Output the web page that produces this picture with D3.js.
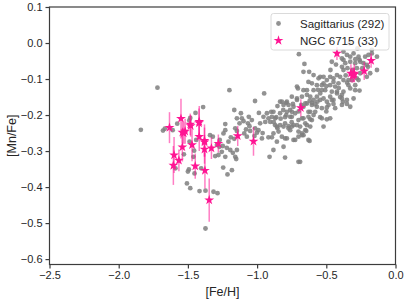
<!DOCTYPE html>
<html>
<head>
<meta charset="utf-8">
<script src="https://cdn.jsdelivr.net/npm/d3@7"></script>
<style>
  html, body { margin: 0; padding: 0; background: #fff; }
  svg { display: block; }
  text { font-family: "Liberation Sans", Arial, sans-serif; fill: #262626; }
</style>
</head>
<body>
<svg id="chart" width="413" height="308"></svg>
<script>
// ---------------- data ----------------
const xTicks = [-2.5, -2.0, -1.5, -1.0, -0.5, 0.0];
const yTicks = [0.1, 0.0, -0.1, -0.2, -0.3, -0.4, -0.5, -0.6];
const xLabel = "[Fe/H]";
const yLabel = "[Mn/Fe]";
const sgrName = "Sagittarius (292)";
const ngcName = "NGC 6715 (33)";

// Sagittarius field stars: [Fe/H], [Mn/Fe]
const sgrPoints = [
  [-1.84,-0.241],[-1.72,-0.124],[-1.68,-0.243],[-1.667,-0.238],[-1.61,-0.242],[-1.577,-0.224],[-1.49,-0.215],[-1.483,-0.208],[-1.445,-0.194],[-1.39,-0.178],
  [-1.488,-0.274],[-1.455,-0.299],[-1.46,-0.316],[-1.493,-0.351],[-1.50,-0.357],[-1.452,-0.362],[-1.507,-0.39],[-1.483,-0.403],[-1.416,-0.411],[-1.529,-0.309],
  [-1.59,-0.348],[-1.404,-0.348],[-1.373,-0.41],[-1.315,-0.413],[-1.286,-0.417],[-1.373,-0.515],[-1.44,-0.269],[-1.34,-0.256],[-1.32,-0.26],[-1.20,-0.131],
  [-1.29,-0.283],[-1.27,-0.269],[-1.272,-0.288],[-1.248,-0.286],[-1.255,-0.302],[-1.279,-0.311],[-1.303,-0.314],[-1.245,-0.346],[-1.214,-0.365],[-1.182,-0.353],
  [-0.949,-0.14],[-1.015,-0.161],[-0.853,-0.175],[-1.165,-0.186],[-1.117,-0.195],[-0.987,-0.194],[-0.898,-0.191],[-0.821,-0.163],[-0.79,-0.166],[-0.773,-0.172],
  [-0.741,-0.169],[-0.712,-0.158],[-0.705,-0.126],[-0.811,-0.186],[-0.761,-0.186],[-0.725,-0.195],[-0.79,-0.2],[-0.749,-0.205],[-0.834,-0.195],[-0.954,-0.205],
  [-0.918,-0.209],[-0.893,-0.205],[-1.146,-0.209],[-1.11,-0.209],[-1.098,-0.217],[-1.127,-0.223],[-1.23,-0.225],[-1.158,-0.237],[-1.066,-0.223],[-1.038,-0.214],
  [-1.014,-0.237],[-0.99,-0.242],[-1.001,-0.249],[-1.019,-0.258],[-0.978,-0.223],[-0.941,-0.219],[-0.905,-0.219],[-0.869,-0.228],[-0.853,-0.237],[-0.834,-0.228],
  [-0.798,-0.223],[-0.773,-0.231],[-0.749,-0.232],[-0.712,-0.228],[-0.701,-0.246],[-0.761,-0.242],[-0.893,-0.262],[-0.845,-0.246],[-0.798,-0.265],[-0.737,-0.269],
  [-0.701,-0.26],[-1.23,-0.242],[-1.243,-0.251],[-1.19,-0.262],[-1.207,-0.274],[-1.219,-0.291],[-1.194,-0.297],[-1.175,-0.305],[-1.146,-0.297],[-1.23,-0.316],
  [-1.158,-0.316],[-1.151,-0.322],[-0.91,-0.316],[-0.798,-0.318],[-1.165,-0.266],[-1.146,-0.244],[-1.093,-0.251],[-1.074,-0.26],[-1.055,-0.231],[-1.05,-0.244],
  [-0.965,-0.265],[-0.918,-0.262],[-0.857,-0.274],[-1.06,-0.205],[-0.929,-0.195],[-0.862,-0.206],
  [-0.698,-0.031],[-0.658,-0.058],[-0.624,-0.08],[-0.712,-0.121],[-0.665,-0.131],[-0.604,-0.112],[-0.568,-0.117],[-0.544,-0.094],[-0.52,-0.112],[-0.532,-0.131],
  [-0.496,-0.103],[-0.472,-0.117],[-0.448,-0.098],[-0.423,-0.089],[-0.40,-0.094],[-0.412,-0.112],[-0.46,-0.135],[-0.423,-0.135],[-0.387,-0.144],[-0.351,-0.158],
  [-0.303,-0.154],[-0.26,-0.132],[-0.26,-0.047],[-0.291,-0.056],[-0.231,-0.056],[-0.351,-0.033],[-0.387,-0.043],[-0.363,-0.056],[-0.327,-0.052],[-0.347,-0.07],
  [-0.376,-0.075],[-0.279,-0.07],[-0.267,-0.038],[-0.199,-0.066],[-0.785,-0.163],[-0.749,-0.149],[-0.712,-0.154],[-0.676,-0.149],[-0.64,-0.144],[-0.616,-0.149],
  [-0.592,-0.158],[-0.568,-0.149],[-0.544,-0.158],[-0.52,-0.154],[-0.496,-0.163],[-0.472,-0.149],[-0.484,-0.172],[-0.448,-0.158],[-0.64,-0.168],[-0.604,-0.172],
  [-0.568,-0.177],[-0.532,-0.181],[-0.665,-0.177],[-0.737,-0.177],[-0.809,-0.172],[-0.834,-0.163],[-0.785,-0.191],[-0.749,-0.191],[-0.761,-0.205],[-0.798,-0.206],
  [-0.629,-0.191],[-0.592,-0.2],[-0.544,-0.206],[-0.496,-0.179],[-0.436,-0.181],[-0.387,-0.172],[-0.472,-0.209],[-0.665,-0.209],[-0.616,-0.212],[-0.701,-0.214],
  [-0.882,-0.191],[-0.869,-0.209],[-0.857,-0.232],[-0.809,-0.232],[-0.773,-0.237],[-0.737,-0.228],[-0.689,-0.232],[-0.652,-0.242],[-0.616,-0.232],[-0.52,-0.232],
  [-0.882,-0.251],[-0.821,-0.26],[-0.785,-0.265],[-0.725,-0.269],[-0.676,-0.256],[-0.629,-0.269],[-0.809,-0.288],[-0.882,-0.297],[-0.701,-0.33],[-0.327,-0.177],
  [-0.291,-0.131],[-0.34,-0.117],[-0.376,-0.103],[-0.315,-0.103],[-0.279,-0.098],[-0.255,-0.084],[-0.207,-0.094],[-0.183,-0.084],[-0.195,-0.033],[-0.171,-0.019],
  [-0.134,-0.038],[-0.681,-0.172],[-0.652,-0.168],[-0.604,-0.166],[-0.564,-0.163],[-0.448,-0.169],[-0.38,-0.163],[-0.351,-0.169],[-0.616,-0.191],[-0.58,-0.191],
  [-0.629,-0.205],[-0.604,-0.214],[-0.532,-0.209],[-0.496,-0.212],[-0.676,-0.209],[-0.652,-0.223],[-0.64,-0.228],[-0.676,-0.251],[-0.665,-0.256],[-0.645,-0.244],
  [-0.621,-0.272],[-0.689,-0.33],[-0.665,-0.08],[-0.592,-0.089],[-0.629,-0.108],[-0.556,-0.098],[-0.532,-0.117],[-0.472,-0.094],[-0.448,-0.108],[-0.436,-0.121],
  [-0.387,-0.066],[-0.376,-0.047],[-0.327,-0.038],[-0.303,-0.029],[-0.255,-0.052],[-0.376,-0.024],[-0.332,-0.001],[-0.275,-0.015],[-0.207,-0.061],[-0.171,-0.029],
  [-0.134,-0.075],[-0.219,-0.038],[-0.544,-0.14],[-0.592,-0.131],[-0.64,-0.131],[-0.508,-0.131],[-0.423,-0.14],[-0.376,-0.135],[-0.327,-0.126],[-0.291,-0.117],
  [-0.267,-0.103],[-0.34,-0.103],[-0.387,-0.154],[-0.46,-0.158],[-0.52,-0.094],[-0.46,-0.052],
  [-0.41,-0.125],[-0.36,-0.09],[-0.31,-0.075],[-0.24,-0.07],[-0.29,-0.045],[-0.47,-0.075],[-0.5,-0.12],[-0.56,-0.13],[-0.43,-0.06],[-0.35,-0.11],
  [-0.58,-0.17],[-0.62,-0.16],[-0.7,-0.19],[-0.75,-0.22],[-0.88,-0.22],[-0.96,-0.25],[-1.08,-0.24],[-0.83,-0.21],[-0.5,-0.19],[-0.4,-0.15]
];

// NGC 6715 stars: [Fe/H], [Mn/Fe], error in [Mn/Fe]
const ngcFeH = [-1.633,-1.55,-1.483,-1.418,-1.54,-1.52,-1.47,-1.418,-1.38,-1.38,-1.33,-1.28,-1.14,-1.026,-1.6,-1.54,-1.565,-1.605,-1.447,-1.377,-1.346,
                -0.684,-0.423,-0.322,-0.298,-0.226,-0.176,-0.31,-1.53,-1.42,-1.48,-1.38,-0.30];
const ngcMnFe = [-0.235,-0.21,-0.226,-0.218,-0.248,-0.245,-0.283,-0.26,-0.271,-0.295,-0.292,-0.279,-0.258,-0.273,-0.311,-0.289,-0.326,-0.34,-0.342,-0.354,-0.436,
                 -0.18,-0.029,-0.084,-0.084,-0.078,-0.049,-0.09,-0.25,-0.222,-0.23,-0.275,-0.088];
const ngcErr  = [0.043,0.055,0.03,0.043,0.03,0.035,0.045,0.04,0.045,0.04,0.03,0.025,0.028,0.04,0.05,0.04,0.03,0.054,0.035,0.05,0.06,
                 0.024,0.018,0.025,0.025,0.025,0.02,0.02,0.03,0.04,0.03,0.04,0.02];

// ---------------- layout ----------------
const svg = d3.select("#chart");
const L = 49.5, R = 395.5, T = 7, B = 264.5;
const x = d3.scaleLinear().domain([-2.5, 0.0]).range([L, R]);
const y = d3.scaleLinear().domain([-0.615, 0.1]).range([B, T]);

const axisColor = "#3c3c3c";

// points
const gPts = svg.append("g");
gPts.selectAll("circle").data(sgrPoints).join("circle")
  .attr("cx", d => x(d[0])).attr("cy", d => y(d[1]))
  .attr("r", 2.4)
  .attr("fill", "#7f7f7f").attr("fill-opacity", 0.85);

const ngc = ngcFeH.map((v, i) => ({x: v, y: ngcMnFe[i], e: ngcErr[i]}));
const gErr = svg.append("g");
gErr.selectAll("line").data(ngc).join("line")
  .attr("x1", d => x(d.x)).attr("x2", d => x(d.x))
  .attr("y1", d => y(d.y - d.e)).attr("y2", d => y(d.y + d.e))
  .attr("stroke", "#ff1493").attr("stroke-opacity", 0.55).attr("stroke-width", 1.5);

const star = d3.symbol().type(d3.symbolStar).size(30);
svg.append("g").selectAll("path").data(ngc).join("path")
  .attr("transform", d => `translate(${x(d.x)},${y(d.y)})`)
  .attr("d", star)
  .attr("fill", "#ff1493");

// axes
const fmt = d => d3.format(".1f")(d).replace("-", "\u2212");
const xAxis = svg.append("g").attr("transform", `translate(0,${B})`)
  .call(d3.axisBottom(x).tickValues(xTicks).tickFormat(fmt).tickSize(4).tickPadding(3));
const yAxis = svg.append("g").attr("transform", `translate(${L},0)`)
  .call(d3.axisLeft(y).tickValues(yTicks).tickFormat(fmt).tickSize(4).tickPadding(3));
[xAxis, yAxis].forEach(a => {
  a.select(".domain").remove();
  a.selectAll(".tick line").attr("stroke", axisColor).attr("stroke-width", 1.2);
  a.selectAll(".tick text").attr("fill", "#262626").style("font-size", "11px")
    .style("font-family", '"Liberation Sans", Arial, sans-serif');
});

// frame
svg.append("rect").attr("x", L).attr("y", T).attr("width", R - L).attr("height", B - T)
  .attr("fill", "none").attr("stroke", axisColor).attr("stroke-width", 1.2);

// axis labels
svg.append("text").attr("x", (L + R) / 2).attr("y", 296)
  .attr("text-anchor", "middle").style("font-size", "12.5px").text(xLabel);
svg.append("text").attr("transform", `translate(16,${(T + B) / 2}) rotate(-90)`)
  .attr("text-anchor", "middle").style("font-size", "12.5px").text(yLabel);

// legend
const lg = svg.append("g");
lg.append("rect").attr("x", 271).attr("y", 13.5).attr("width", 118).attr("height", 36.5)
  .attr("rx", 2.5).attr("fill", "#fff").attr("fill-opacity", 0.8)
  .attr("stroke", "#d0d0d0").attr("stroke-width", 0.8);
lg.append("circle").attr("cx", 278.5).attr("cy", 23.5).attr("r", 2.4).attr("fill", "#7f7f7f").attr("fill-opacity", 0.85);
lg.append("path").attr("transform", "translate(278.5,40.5)").attr("d", star).attr("fill", "#ff1493");
lg.append("text").attr("x", 300).attr("y", 27.5).style("font-size", "11.5px").text(sgrName);
lg.append("text").attr("x", 300).attr("y", 44.5).style("font-size", "11.5px").text(ngcName);
</script>
</body>
</html>
